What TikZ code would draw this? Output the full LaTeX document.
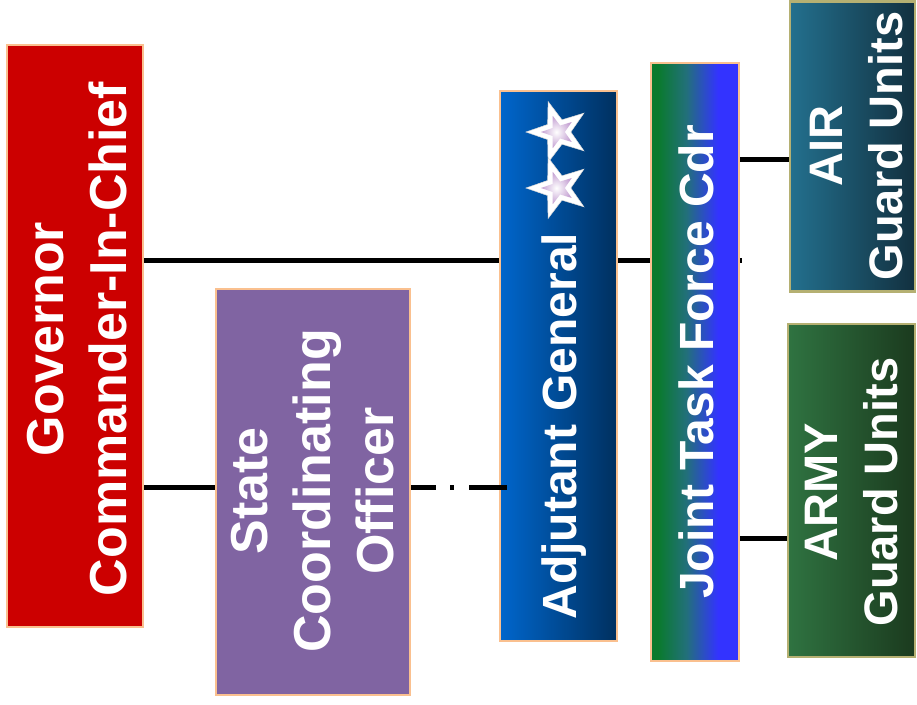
\documentclass[tikz,border=0pt]{standalone}
\usepackage{fontspec}
\setmainfont{Liberation Sans}
\usetikzlibrary{shapes.geometric,backgrounds}
\definecolor{govred}{HTML}{CC0000}
\definecolor{scopurple}{HTML}{8064A2}
\definecolor{orangeb}{HTML}{FAC08F}
\definecolor{oliveb}{HTML}{B5B072}
\definecolor{agl}{HTML}{0066CC}
\definecolor{agr}{HTML}{00305F}
\definecolor{jtfg}{HTML}{0A7A2D}
\definecolor{jtft}{HTML}{22707A}
\definecolor{jtfb}{HTML}{3333FF}
\definecolor{airl}{HTML}{23708E}
\definecolor{airr}{HTML}{12303F}
\definecolor{arml}{HTML}{2F7341}
\definecolor{armr}{HTML}{1B3A1E}
\definecolor{lavender}{HTML}{C4A0D2}
\pgfdeclarehorizontalshading{jtfshade}{100bp}{color(0bp)=(jtfg); color(25bp)=(jtfg); color(29bp)=(jtfg); color(45bp)=(jtft); color(63bp)=(jtfb); color(75bp)=(jtfb); color(100bp)=(jtfb)}
\begin{document}
\begin{tikzpicture}[x=1pt,y=-1pt,
  box/.style={rectangle, draw=orangeb, line width=2pt, inner sep=0pt},
  obox/.style={rectangle, draw=oliveb, line width=2.5pt, inner sep=0pt},
  lbl/.style={text=white, rotate=90, align=center, inner sep=0pt},
  big/.style={font=\bfseries\fontsize{52}{63}\selectfont},
  mid/.style={font=\bfseries\fontsize{48}{58}\selectfont},
  unit/.style={font=\bfseries\fontsize{47}{60}\selectfont},
  conn/.style={line width=5pt, draw=black},
  bigstar/.style={star, star points=5, star point ratio=2.5, shape border rotate=90, inner sep=0pt, minimum size=64pt, fill=white, draw=white!85!black, line width=0.5pt},
  smallstar/.style={star, star points=5, star point ratio=2.5, shape border rotate=90, inner sep=0pt, minimum size=34pt, inner color=white, outer color=lavender}
]
\useasboundingbox (0,0) rectangle (917,704);

% boxes
\node[box, fill=govred, minimum width=136pt, minimum height=582pt] (gov) at (75,336) {};
\node[box, fill=scopurple, minimum width=194pt, minimum height=406pt] (sco) at (313,492) {};
\node[box, left color=agl, right color=agr, minimum width=117pt, minimum height=550pt] (ag) at (558.5,366) {};
\node[box, shading=jtfshade, minimum width=88pt, minimum height=598pt] (jtf) at (695,362) {};
\node[obox, left color=airl, right color=airr, minimum width=125pt, minimum height=290pt] (air) at (852.5,146.5) {};
\node[obox, left color=arml, right color=armr, minimum width=127pt, minimum height=333pt] (army) at (851.5,490.5) {};

% labels
\node[lbl, big] (govt) at (77,339) {Governor\\Commander-In-Chief};
\node[lbl, big] (scot) at (313,491) {State\\Coordinating\\Officer};
\node[lbl, mid] (agt) at (564,426) {Adjutant General};
\node[lbl, mid] (jtft) at (696,362) {Joint Task Force Cdr};
\node[lbl, unit] (airt) at (857,146) {AIR\\Guard Units};
\node[lbl, unit] (armyt) at (852,492) {ARMY\\Guard Units};

% stars
\node[bigstar] (s1) at (558,132) {};
\node[smallstar] (s1i) at (558,132) {};
\node[bigstar] (s2) at (558,188) {};
\node[smallstar] (s2i) at (558,188) {};

% connectors
\coordinate (stub) at (742,260);
\coordinate (low) at (0,487);
\coordinate (dashend) at (507,487);
\coordinate (airy) at (0,159);
\coordinate (armyy) at (0,538);
\begin{pgfonlayer}{background}
\draw[conn] (gov.east |- stub) -- (stub);
\end{pgfonlayer}
\draw[conn] (gov.east |- low) -- (sco.west |- low);
\draw[conn, dash pattern=on 25pt off 14pt on 4pt off 15pt on 40pt off 10pt] (sco.east |- low) -- (dashend);
\draw[conn] (jtf.east |- airy) -- (air.west |- airy);
\draw[conn] (jtf.east |- armyy) -- (army.west |- armyy);
\end{tikzpicture}
\end{document}
